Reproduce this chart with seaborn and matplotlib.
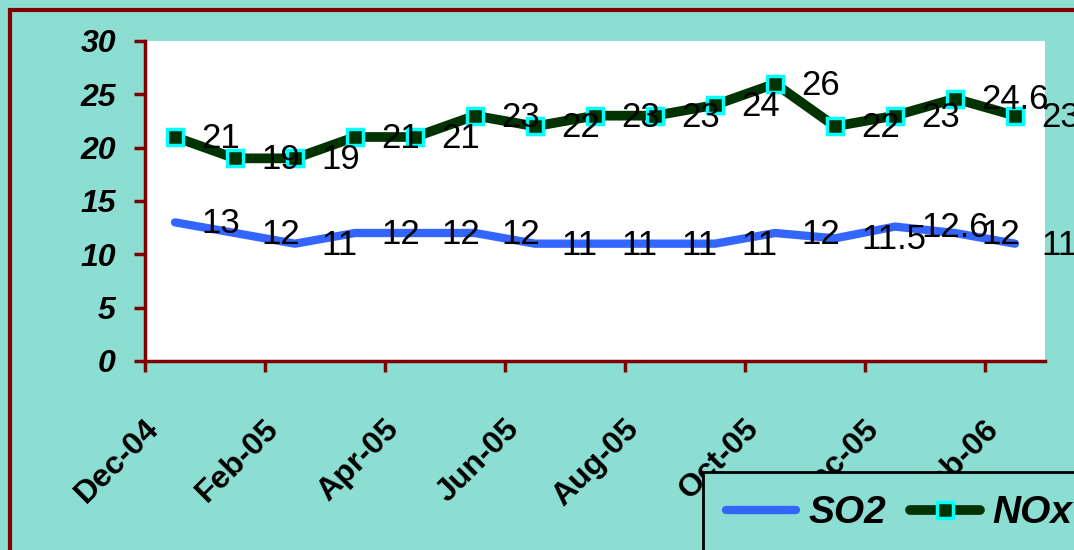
import numpy as np
import pandas as pd
import seaborn as sns
import matplotlib.pyplot as plt
from matplotlib.patches import Rectangle
from matplotlib.transforms import ScaledTranslation

months = ['Dec-04', 'Jan-05', 'Feb-05', 'Mar-05', 'Apr-05', 'May-05', 'Jun-05', 'Jul-05',
          'Aug-05', 'Sep-05', 'Oct-05', 'Nov-05', 'Dec-05', 'Jan-06', 'Feb-06']
so2 = [13, 12, 11, 12, 12, 12, 11, 11, 11, 11, 12, 11.5, 12.6, 12, 11]
nox = [21, 19, 19, 21, 21, 23, 22, 23, 23, 24, 26, 22, 23, 24.6, 23]

TEAL = '#8CDED3'
DARKRED = '#800000'

sns.set_style("ticks")
plt.rcParams['font.family'] = ['Liberation Sans', 'DejaVu Sans']
plt.rcParams['text.color'] = 'black'
fs_lab, fs_y, fs_x, fs_leg = 25, 23, 23, 28

df = pd.DataFrame({'pos': np.arange(len(months)), 'month': months, 'SO2': so2, 'NOx': nox})

fig = plt.figure(figsize=(10.74, 5.5), dpi=100, facecolor=TEAL)
ax = fig.add_axes([145 / 1074, 1 - 361 / 550, 900 / 1074, 320 / 550])
ax.set_facecolor('white')

sns.lineplot(data=df, x='pos', y='SO2', color='#3366FF', lw=6, ax=ax, label='SO2')
sns.lineplot(data=df, x='pos', y='NOx', color='#003300', lw=7, ax=ax, label='NOx',
             marker='s', markersize=11, markerfacecolor='#003300',
             markeredgecolor='#00FFFF', markeredgewidth=2.5)

# data labels to the right of each point
for col in ['SO2', 'NOx']:
    for x, v in zip(df['pos'], df[col]):
        ax.annotate(f"{v:g}", (x, v), xytext=(19, -1), textcoords='offset points',
                    ha='left', va='center', fontsize=fs_lab, color='black',
                    annotation_clip=False)

ax.set_xlim(-0.5, 14.5)
ax.set_ylim(0, 30)
ax.set_yticks(range(0, 31, 5))
ax.set_yticklabels([str(v) for v in range(0, 31, 5)], fontsize=fs_y,
                   fontweight='bold', fontstyle='italic')

ax.set_xticks(np.arange(-0.5, 14, 2))
ax.set_xticklabels([])
ax.set_xticks(np.arange(0, 15, 2), minor=True)
ax.set_xticklabels(months[::2], minor=True, rotation=45, ha='right',
                   fontsize=fs_x, fontweight='bold')
ax.tick_params(axis='x', which='minor', length=0, pad=38)
for lab in ax.get_xticklabels(minor=True):
    lab.set_transform(lab.get_transform() + ScaledTranslation(-10 / 100, 0, fig.dpi_scale_trans))

ax.tick_params(axis='both', which='both', labelcolor='black')
ax.tick_params(axis='both', which='major', direction='out', length=8, width=2.5,
               color=DARKRED)
ax.tick_params(axis='y', pad=13)
ax.set_xlabel('')
ax.set_ylabel('')

for s in ['top', 'right']:
    ax.spines[s].set_visible(False)
for s in ['left', 'bottom']:
    ax.spines[s].set_color(DARKRED)
    ax.spines[s].set_linewidth(2.5)

# outer border, runs off the right and bottom edges
fig.patches.append(Rectangle((10 / 1074, -0.2), 1.2, 1.2 - 10 / 550, transform=fig.transFigure,
                             fill=False, ec=DARKRED, lw=3, zorder=0))

em = fs_leg * 100 / 72
leg = ax.legend(loc='upper left', bbox_to_anchor=(703 / 1074, 1 - 472 / 550),
                bbox_transform=fig.transFigure, ncol=2, frameon=True, fancybox=False,
                edgecolor='black', facecolor=TEAL, framealpha=1, borderaxespad=0,
                borderpad=0.6, handlelength=70 / em, handletextpad=12 / em,
                columnspacing=24 / em,
                prop={'size': fs_leg, 'weight': 'bold', 'style': 'italic'})
leg.get_frame().set_linewidth(2)
for t in leg.get_texts():
    t.set_color('black')

fig.savefig('out.png', dpi=100, facecolor=TEAL)
